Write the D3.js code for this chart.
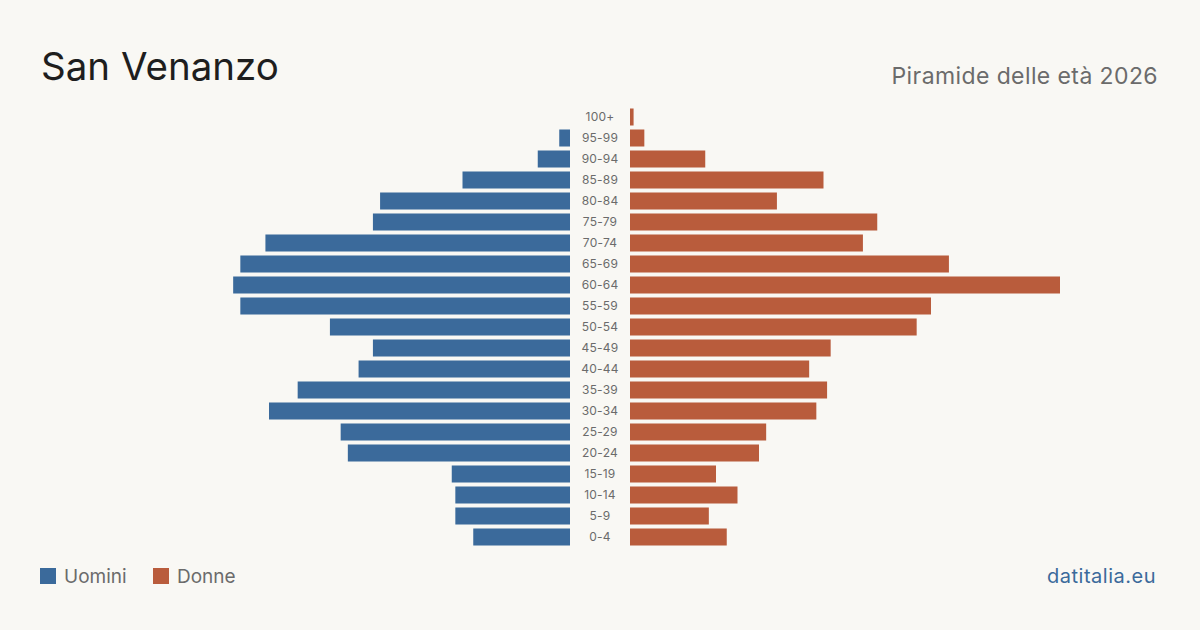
<!DOCTYPE html>
<html>
<head>
<meta charset="utf-8">
<script src="https://cdn.jsdelivr.net/npm/d3@7"></script>
<style>
  html, body { margin: 0; padding: 0; background: #f9f8f4; }
  svg { display: block; }
</style>
</head>
<body>
<div id="chart"></div>
<script>
// age classes, top to bottom
const ageGroups = ["100+", "95-99", "90-94", "85-89", "80-84", "75-79", "70-74", "65-69",
  "60-64", "55-59", "50-54", "45-49", "40-44", "35-39", "30-34", "25-29", "20-24",
  "15-19", "10-14", "5-9", "0-4"];
const uomini = [0, 3, 9, 30, 53, 55, 85, 92, 94, 92, 67, 55, 59, 76, 84, 64, 62, 33, 32, 32, 27];
const donne = [1, 4, 21, 54, 41, 69, 65, 89, 120, 84, 80, 56, 50, 55, 52, 38, 36, 24, 30, 22, 27];

const width = 1200, height = 630;
const font = "Inter, 'Liberation Sans', sans-serif";
const blue = "#3b6a9b", red = "#b95c3c";

const svg = d3.select("#chart").append("svg")
  .attr("width", width)
  .attr("height", height)
  .style("background", "#f9f8f4");

// title / subtitle
svg.append("text")
  .attr("x", 41).attr("y", 80)
  .attr("font-family", font)
  .attr("font-size", 38.5)
  .attr("fill", "#1e1e1e")
  .text("San Venanzo");

svg.append("text")
  .attr("x", 1158).attr("y", 84)
  .attr("text-anchor", "end")
  .attr("font-family", font)
  .attr("font-size", 23)
  .attr("letter-spacing", 0.4)
  .attr("fill", "#6b6b6b")
  .text("Piramide delle età 2026");

const maxVal = d3.max(donne.concat(uomini));

const y = d3.scaleBand()
  .domain(ageGroups)
  .range([106.5, 547.5])
  .paddingInner(0.19)
  .paddingOuter(0.095);

const xLeft = d3.scaleLinear().domain([0, maxVal]).range([570, 140]);
const xRight = d3.scaleLinear().domain([0, maxVal]).range([630, 1060]);

const rows = ageGroups.map((g, i) => ({ g, m: uomini[i], f: donne[i] }));

svg.append("g")
  .selectAll("rect")
  .data(rows)
  .enter().append("rect")
  .attr("x", d => xLeft(d.m))
  .attr("y", d => y(d.g))
  .attr("width", d => xLeft(0) - xLeft(d.m))
  .attr("height", y.bandwidth())
  .attr("fill", blue);

svg.append("g")
  .selectAll("rect")
  .data(rows)
  .enter().append("rect")
  .attr("x", xRight(0))
  .attr("y", d => y(d.g))
  .attr("width", d => xRight(d.f) - xRight(0))
  .attr("height", y.bandwidth())
  .attr("fill", red);

// age labels
svg.append("g")
  .selectAll("text")
  .data(ageGroups)
  .enter().append("text")
  .attr("x", 600)
  .attr("y", d => y(d) + y.bandwidth() / 2)
  .attr("dy", "0.35em")
  .attr("text-anchor", "middle")
  .attr("font-family", font)
  .attr("font-size", 12)
  .attr("letter-spacing", 0.2)
  .attr("fill", "#6b6b6b")
  .text(d => d);

// legend
const legend = [{ name: "Uomini", color: blue, x: 40 }, { name: "Donne", color: red, x: 153 }];
const lg = svg.append("g").selectAll("g")
  .data(legend)
  .enter().append("g")
  .attr("transform", d => `translate(${d.x},568)`);
lg.append("rect")
  .attr("width", 16).attr("height", 16)
  .attr("fill", d => d.color);
lg.append("text")
  .attr("x", 24).attr("y", 15)
  .attr("font-family", font)
  .attr("font-size", 19)
  .attr("fill", "#6b6b6b")
  .text(d => d.name);

svg.append("text")
  .attr("x", 1156).attr("y", 583)
  .attr("text-anchor", "end")
  .attr("font-family", font)
  .attr("font-size", 20)
  .attr("letter-spacing", 0.5)
  .attr("fill", blue)
  .text("datitalia.eu");
</script>
</body>
</html>
